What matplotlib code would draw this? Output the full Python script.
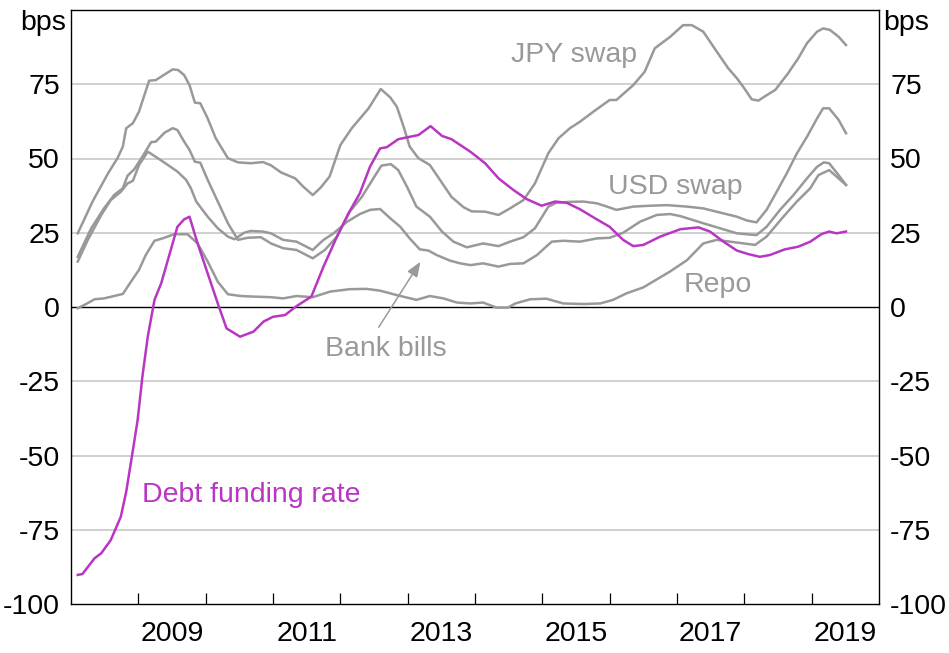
import numpy as np
import matplotlib
matplotlib.use("Agg")
import matplotlib.pyplot as plt

plt.rcParams['font.family'] = ['Liberation Sans', 'DejaVu Sans']

# Datos (año decimal, puntos básicos)
jpy_t = [2008.10, 2008.32, 2008.55, 2008.69, 2008.77, 2008.82, 2008.92, 2009.01, 2009.16, 2009.26,
         2009.39, 2009.51, 2009.59, 2009.68, 2009.76, 2009.84, 2009.92, 2010.03, 2010.15, 2010.33,
         2010.48, 2010.67, 2010.85, 2010.97, 2011.12, 2011.33, 2011.45, 2011.59, 2011.70, 2011.84,
         2012.00, 2012.17, 2012.42, 2012.60, 2012.74, 2012.84, 2012.94, 2013.03, 2013.16, 2013.33,
         2013.48, 2013.65, 2013.83, 2013.95, 2014.15, 2014.35, 2014.52, 2014.72, 2014.89, 2015.09,
         2015.24, 2015.41, 2015.56, 2015.76, 2016.00, 2016.10, 2016.35, 2016.52, 2016.67, 2016.90,
         2017.09, 2017.22, 2017.39, 2017.59, 2017.76, 2017.89, 2018.00, 2018.11, 2018.21, 2018.31,
         2018.46, 2018.65, 2018.80, 2018.93, 2019.08, 2019.17, 2019.27, 2019.40, 2019.51]
jpy_v = [24.8, 35.5, 45.0, 50.1, 54.0, 60.2, 61.9, 65.8, 76.2, 76.4,
         78.3, 80.0, 79.8, 78.1, 74.7, 68.8, 68.6, 63.5, 56.8, 50.1,
         48.7, 48.4, 48.8, 47.7, 45.3, 43.3, 40.5, 37.7, 40.0, 43.9,
         54.5, 60.2, 66.9, 73.4, 70.6, 67.4, 60.7, 54.0, 50.1, 47.8,
         42.8, 37.1, 33.6, 32.2, 32.1, 31.0, 33.2, 36.0, 41.6, 51.8,
         56.8, 60.2, 62.4, 65.8, 69.7, 69.7, 74.7, 79.2, 87.1, 91.0,
         94.9, 94.9, 92.7, 86.0, 80.4, 77.0, 73.6, 69.9, 69.5, 71.0,
         73.1, 78.7, 83.7, 88.8, 92.7, 93.8, 93.3, 91.0, 88.2]

usd_t = [2008.10, 2008.30, 2008.49, 2008.64, 2008.77, 2008.84, 2008.94, 2009.06, 2009.19, 2009.26,
         2009.39, 2009.51, 2009.58, 2009.68, 2009.76, 2009.84, 2009.92, 2010.03, 2010.18, 2010.33,
         2010.48, 2010.62, 2010.82, 2010.97, 2011.15, 2011.35, 2011.59, 2011.77, 2011.95, 2012.14,
         2012.32, 2012.49, 2012.61, 2012.75, 2012.86, 2012.99, 2013.13, 2013.33, 2013.51, 2013.68,
         2013.88, 2014.12, 2014.35, 2014.52, 2014.72, 2014.89, 2015.09, 2015.21, 2015.41, 2015.61,
         2015.81, 2015.96, 2016.10, 2016.35, 2016.60, 2016.85, 2017.15, 2017.39, 2017.64, 2017.89,
         2018.04, 2018.18, 2018.33, 2018.48, 2018.63, 2018.78, 2018.93, 2019.08, 2019.17, 2019.26,
         2019.40, 2019.51]
usd_v = [16.9, 26.5, 33.2, 37.7, 40.0, 44.2, 46.4, 50.6, 55.5, 55.7,
         58.7, 60.2, 59.6, 55.7, 52.9, 48.9, 48.6, 42.8, 35.5, 28.2,
         22.6, 23.3, 23.5, 21.4, 19.8, 19.2, 16.4, 19.2, 23.7, 32.1,
         37.1, 43.3, 47.6, 48.1, 46.1, 40.5, 33.8, 30.4, 25.4, 22.0,
         20.1, 21.4, 20.5, 22.0, 23.5, 26.5, 33.8, 35.1, 35.4, 35.5,
         34.9, 33.8, 32.7, 33.8, 34.1, 34.3, 33.8, 33.2, 31.8, 30.4,
         29.1, 28.5, 32.7, 38.8, 45.0, 51.7, 57.3, 63.5, 66.9, 66.9,
         63.0, 58.5]

bills_t = [2008.10, 2008.25, 2008.45, 2008.59, 2008.74, 2008.84, 2008.92, 2009.01, 2009.14, 2009.29,
           2009.44, 2009.58, 2009.71, 2009.78, 2009.86, 2010.03, 2010.18, 2010.33, 2010.43, 2010.57,
           2010.67, 2010.85, 2010.97, 2011.15, 2011.35, 2011.59, 2011.75, 2011.90, 2012.10, 2012.29,
           2012.44, 2012.59, 2012.74, 2012.89, 2013.03, 2013.18, 2013.31, 2013.43, 2013.63, 2013.78,
           2013.93, 2014.12, 2014.35, 2014.52, 2014.72, 2014.92, 2015.14, 2015.31, 2015.56, 2015.81,
           2016.00, 2016.20, 2016.45, 2016.70, 2016.90, 2017.05, 2017.39, 2017.64, 2017.89, 2018.18,
           2018.33, 2018.53, 2018.73, 2018.93, 2019.08, 2019.18, 2019.26, 2019.40, 2019.51]
bills_v = [15.3, 22.6, 31.0, 36.0, 38.8, 41.6, 42.5, 47.8, 52.3, 50.1,
           47.8, 45.6, 42.8, 40.0, 35.5, 30.4, 26.5, 23.7, 22.8, 25.0,
           25.6, 25.4, 24.8, 22.6, 22.0, 19.2, 22.6, 24.8, 28.7, 31.3,
           32.7, 33.0, 29.9, 27.0, 23.1, 19.4, 19.0, 17.5, 15.6, 14.7,
           14.1, 14.7, 13.6, 14.5, 14.7, 17.5, 22.0, 22.3, 22.0, 23.1,
           23.3, 25.0, 28.7, 31.0, 31.3, 30.6, 28.2, 26.5, 24.8, 24.2,
           27.0, 32.7, 37.7, 43.3, 47.2, 48.7, 48.4, 44.4, 41.1]

repo_t = [2008.10, 2008.20, 2008.35, 2008.49, 2008.64, 2008.77, 2008.89, 2009.01, 2009.11, 2009.24,
          2009.36, 2009.53, 2009.73, 2009.88, 2010.03, 2010.18, 2010.33, 2010.52, 2010.72, 2010.97,
          2011.15, 2011.35, 2011.59, 2011.85, 2012.14, 2012.39, 2012.59, 2012.84, 2013.13, 2013.33,
          2013.53, 2013.73, 2013.93, 2014.12, 2014.32, 2014.49, 2014.60, 2014.82, 2015.06, 2015.31,
          2015.61, 2015.86, 2016.05, 2016.25, 2016.50, 2016.70, 2016.90, 2017.15, 2017.39, 2017.59,
          2017.89, 2018.16, 2018.33, 2018.58, 2018.78, 2018.98, 2019.10, 2019.26, 2019.40, 2019.51]
repo_v = [-0.4, 0.7, 2.6, 2.9, 3.7, 4.4, 8.5, 12.5, 17.5, 22.3,
          23.1, 24.5, 24.5, 21.4, 15.3, 8.5, 4.3, 3.7, 3.5, 3.3,
          2.9, 3.7, 3.3, 5.2, 6.0, 6.1, 5.5, 4.0, 2.4, 3.7,
          2.9, 1.5, 1.2, 1.5, -0.2, -0.2, 1.2, 2.6, 2.8, 1.2,
          1.0, 1.2, 2.4, 4.6, 6.6, 9.3, 12.0, 15.8, 21.4, 22.6,
          21.7, 20.9, 23.7, 30.4, 35.5, 40.0, 44.4, 46.1, 43.3, 41.1]

debt_t = [2008.10, 2008.17, 2008.35, 2008.45, 2008.59, 2008.74, 2008.82, 2008.92, 2008.99, 2009.06,
          2009.14, 2009.24, 2009.34, 2009.46, 2009.58, 2009.68, 2009.76, 2009.88, 2010.03, 2010.18,
          2010.31, 2010.51, 2010.71, 2010.86, 2011.00, 2011.18, 2011.35, 2011.57, 2011.75, 2011.95,
          2012.12, 2012.29, 2012.44, 2012.59, 2012.69, 2012.86, 2013.03, 2013.16, 2013.34, 2013.51,
          2013.65, 2013.93, 2014.15, 2014.35, 2014.57, 2014.77, 2014.99, 2015.19, 2015.36, 2015.56,
          2015.78, 2016.00, 2016.20, 2016.35, 2016.50, 2016.75, 2017.05, 2017.32, 2017.49, 2017.69,
          2017.89, 2018.06, 2018.23, 2018.38, 2018.60, 2018.80, 2018.98, 2019.15, 2019.26, 2019.37,
          2019.51]
debt_v = [-90.2, -89.9, -84.6, -82.9, -78.5, -70.6, -62.2, -48.1, -38.0, -23.5,
          -10.0, 2.4, 8.0, 17.5, 27.0, 29.5, 30.4, 21.4, 11.3, 1.2,
          -7.2, -10.0, -8.3, -4.9, -3.3, -2.7, 0.3, 3.5, 13.6, 23.7,
          31.5, 38.3, 47.2, 53.4, 53.8, 56.5, 57.3, 57.9, 60.9, 57.6,
          56.5, 52.3, 48.4, 43.3, 39.4, 36.3, 34.1, 35.5, 35.1, 32.9,
          29.9, 27.0, 22.6, 20.5, 20.9, 23.7, 26.2, 26.8, 25.4, 22.0,
          19.0, 17.8, 16.9, 17.5, 19.4, 20.3, 22.0, 24.6, 25.4, 24.8,
          25.4]

y_ticks = [-100, -75, -50, -25, 0, 25, 50, 75]
year_labels = [2009, 2011, 2013, 2015, 2017, 2019]

gris = '#999999'
magenta = '#b936c3'
fs = 20.5

fig = plt.figure(figsize=(9.49, 6.53), dpi=100)
ax = fig.add_axes([71 / 949, 1 - 604 / 653, 808 / 949, 594 / 653])

# Rejilla horizontal y línea de cero
for v in [-75, -50, -25, 25, 50, 75]:
    ax.axhline(v, color='#c4c4c4', lw=1.1, zorder=1)
ax.axhline(0, color='black', lw=1.0, zorder=2)

for t, v in [(jpy_t, jpy_v), (usd_t, usd_v), (bills_t, bills_v), (repo_t, repo_v)]:
    ax.plot(t, v, color=gris, lw=1.8, zorder=3, solid_joinstyle='round')
ax.plot(debt_t, debt_v, color=magenta, lw=1.8, zorder=4, solid_joinstyle='round')

ax.set_xlim(2008, 2020)
ax.set_ylim(-100, 100)

# Eje x: marcas en cada año, etiquetas centradas en años impares
ax.set_xticks(np.arange(2009, 2020))
ax.set_xticklabels([])
ax.set_xticks([y + 0.5 for y in year_labels], minor=True)
ax.set_xticklabels([str(y) for y in year_labels], minor=True)
ax.tick_params(axis='x', which='major', direction='in', length=8, width=0.9, bottom=True, top=False)
ax.tick_params(axis='x', which='minor', length=0, pad=12, labelsize=fs)

ax.set_yticks(y_ticks)
ax.set_yticklabels([str(v) for v in y_ticks])
ax.tick_params(axis='y', which='both', left=False, right=False, labelleft=True, labelright=True,
               pad=4.5, labelsize=fs)

for s in ax.spines.values():
    s.set_linewidth(1.0)

# Unidades arriba
ax.text(-0.0055, 93.3, 'bps', transform=ax.get_yaxis_transform(), ha='right', va='baseline', fontsize=fs)
ax.text(1.0055, 93.3, 'bps', transform=ax.get_yaxis_transform(), ha='left', va='baseline', fontsize=fs)

# Etiquetas de series
ax.text(2015.47, 82.6, 'JPY swap', color=gris, ha='center', va='baseline', fontsize=fs)
ax.text(2016.97, 37.9, 'USD swap', color=gris, ha='center', va='baseline', fontsize=fs)
ax.text(2017.60, 5.2, 'Repo', color=gris, ha='center', va='baseline', fontsize=fs)
ax.text(2012.68, -16.5, 'Bank bills', color=gris, ha='center', va='baseline', fontsize=fs)
ax.text(2009.05, -65.6, 'Debt funding rate', color=magenta, ha='left', va='baseline', fontsize=fs)

ax.annotate('', xy=(2013.19, 15.25), xytext=(2012.57, -6.8),
            arrowprops=dict(arrowstyle='-|>,head_length=0.9,head_width=0.35', color=gris, lw=1.1,
                            shrinkA=0, shrinkB=0), zorder=5)

fig.savefig('out.png', dpi=100)
